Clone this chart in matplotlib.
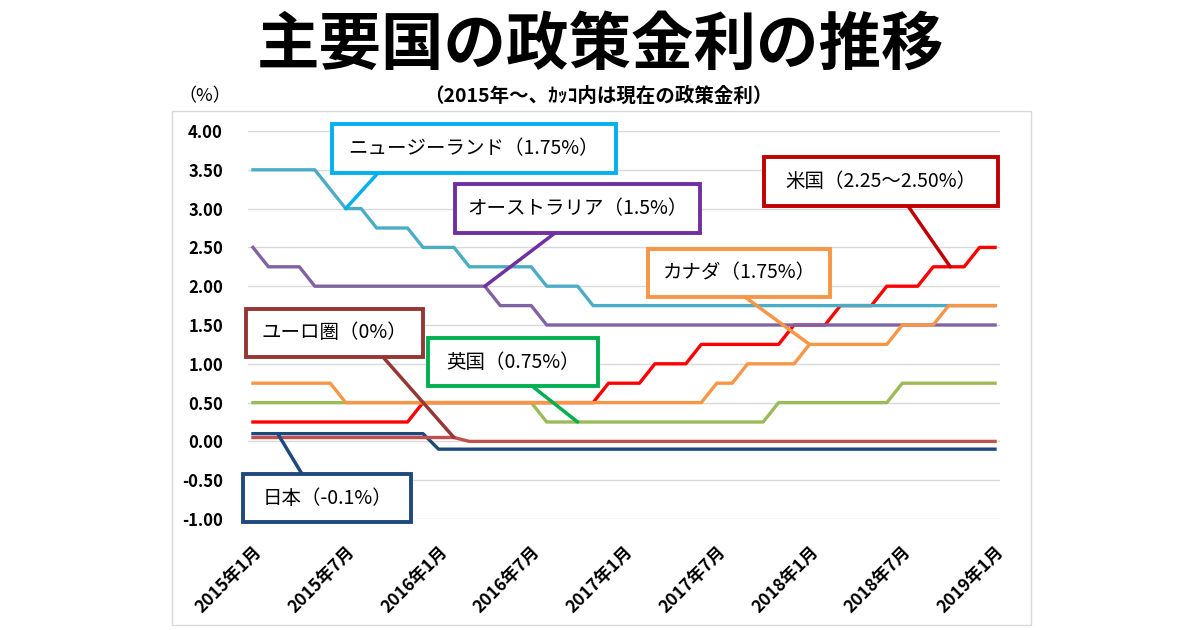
import matplotlib
matplotlib.use("Agg")
import matplotlib.pyplot as plt
from matplotlib.patches import Rectangle, ConnectionPatch
import numpy as np

plt.rcParams['font.family'] = ['Noto Sans CJK JP', 'DejaVu Sans']

# 月次データ（2015年1月～2019年1月、49か月）
months = list(range(49))
tick_pos = [0, 6, 12, 18, 24, 30, 36, 42, 48]
tick_labels = ['2015年1月', '2015年7月', '2016年1月', '2016年7月', '2017年1月',
               '2017年7月', '2018年1月', '2018年7月', '2019年1月']

us = [0.25, 0.25, 0.25, 0.25, 0.25, 0.25, 0.25, 0.25, 0.25, 0.25, 0.25,
      0.5, 0.5, 0.5, 0.5, 0.5, 0.5, 0.5, 0.5, 0.5, 0.5, 0.5, 0.5,
      0.75, 0.75, 0.75, 1.0, 1.0, 1.0, 1.25, 1.25, 1.25, 1.25, 1.25, 1.25,
      1.5, 1.5, 1.5, 1.75, 1.75, 1.75, 2.0, 2.0, 2.0, 2.25, 2.25, 2.25, 2.5, 2.5]
jp = [0.1, 0.1, 0.1, 0.1, 0.1, 0.1, 0.1, 0.1, 0.1, 0.1, 0.1, 0.1,
      -0.1, -0.1, -0.1, -0.1, -0.1, -0.1, -0.1, -0.1, -0.1, -0.1, -0.1, -0.1,
      -0.1, -0.1, -0.1, -0.1, -0.1, -0.1, -0.1, -0.1, -0.1, -0.1, -0.1, -0.1,
      -0.1, -0.1, -0.1, -0.1, -0.1, -0.1, -0.1, -0.1, -0.1, -0.1, -0.1, -0.1, -0.1]
eu = [0.05, 0.05, 0.05, 0.05, 0.05, 0.05, 0.05, 0.05, 0.05, 0.05, 0.05, 0.05, 0.05, 0.05,
      0.0, 0.0, 0.0, 0.0, 0.0, 0.0, 0.0, 0.0, 0.0, 0.0, 0.0, 0.0, 0.0, 0.0, 0.0, 0.0,
      0.0, 0.0, 0.0, 0.0, 0.0, 0.0, 0.0, 0.0, 0.0, 0.0, 0.0, 0.0, 0.0, 0.0, 0.0, 0.0,
      0.0, 0.0, 0.0]
uk = [0.5, 0.5, 0.5, 0.5, 0.5, 0.5, 0.5, 0.5, 0.5, 0.5, 0.5, 0.5, 0.5, 0.5, 0.5, 0.5,
      0.5, 0.5, 0.5, 0.25, 0.25, 0.25, 0.25, 0.25, 0.25, 0.25, 0.25, 0.25, 0.25, 0.25,
      0.25, 0.25, 0.25, 0.25, 0.5, 0.5, 0.5, 0.5, 0.5, 0.5, 0.5, 0.5,
      0.75, 0.75, 0.75, 0.75, 0.75, 0.75, 0.75]
nz = [3.5, 3.5, 3.5, 3.5, 3.5, 3.25, 3.0, 3.0, 2.75, 2.75, 2.75, 2.5, 2.5, 2.5,
      2.25, 2.25, 2.25, 2.25, 2.25, 2.0, 2.0, 2.0, 1.75, 1.75, 1.75, 1.75, 1.75, 1.75,
      1.75, 1.75, 1.75, 1.75, 1.75, 1.75, 1.75, 1.75, 1.75, 1.75, 1.75, 1.75, 1.75,
      1.75, 1.75, 1.75, 1.75, 1.75, 1.75, 1.75, 1.75]
au = [2.5, 2.25, 2.25, 2.25, 2.0, 2.0, 2.0, 2.0, 2.0, 2.0, 2.0, 2.0, 2.0, 2.0, 2.0, 2.0,
      1.75, 1.75, 1.75, 1.5, 1.5, 1.5, 1.5, 1.5, 1.5, 1.5, 1.5, 1.5, 1.5, 1.5, 1.5,
      1.5, 1.5, 1.5, 1.5, 1.5, 1.5, 1.5, 1.5, 1.5, 1.5, 1.5, 1.5, 1.5, 1.5, 1.5,
      1.5, 1.5, 1.5]
ca = [0.75, 0.75, 0.75, 0.75, 0.75, 0.75, 0.5, 0.5, 0.5, 0.5, 0.5, 0.5, 0.5, 0.5,
      0.5, 0.5, 0.5, 0.5, 0.5, 0.5, 0.5, 0.5, 0.5, 0.5, 0.5, 0.5, 0.5, 0.5, 0.5, 0.5,
      0.75, 0.75, 1.0, 1.0, 1.0, 1.0, 1.25, 1.25, 1.25, 1.25, 1.25, 1.25,
      1.5, 1.5, 1.5, 1.75, 1.75, 1.75, 1.75]

fig = plt.figure(figsize=(12, 6.3), dpi=100)
ax = fig.add_axes([248/1200, 1-519/630, 752/1200, 388/630])

# 描画順（下から）
ax.plot(months, us, color='#FF0000', lw=2.4, zorder=3)
ax.plot(months, jp, color='#1F497D', lw=2.4, zorder=3)
ax.plot(months, eu, color='#C0504D', lw=2.4, zorder=3)
ax.plot(months, uk, color='#9BBB59', lw=2.4, zorder=3)
ax.plot(months, nz, color='#4BACC6', lw=2.4, zorder=3)
ax.plot(months, au, color='#8064A2', lw=2.4, zorder=3)
ax.plot(months, ca, color='#F79646', lw=2.4, zorder=3)

ax.set_xlim(-0.32, 48.32)
ax.set_ylim(-1, 4)
ax.set_yticks(np.arange(-1, 4.01, 0.5))
ax.set_yticklabels(['%.2f' % v for v in np.arange(-1, 4.01, 0.5)],
                   fontsize=12, fontweight='bold')
ax.set_xticks(tick_pos)
ax.set_xticklabels(tick_labels, rotation=45, ha='right', va='top',
                   rotation_mode='anchor', fontsize=12.5, fontweight='bold')
ax.tick_params(axis='both', length=0)
ax.tick_params(axis='x', pad=17)
ax.tick_params(axis='y', pad=18)
ax.grid(axis='y', color='#D9D9D9', lw=1)
ax.set_axisbelow(True)
for s in ax.spines.values():
    s.set_visible(False)

# 上に重ねるピクセル座標の軸
ov = fig.add_axes([0, 0, 1, 1])
ov.set_xlim(0, 1200)
ov.set_ylim(630, 0)
ov.axis('off')

ov.add_patch(Rectangle((172, 111), 859, 514, fill=False, ec='#D9D9D9', lw=1))

ov.text(600, 45, '主要国の政策金利の推移', ha='center', va='center',
        fontsize=45, fontweight='bold')
ov.text(598, 96, '（2015年～、ｶｯｺ内は現在の政策金利）', ha='center', va='center',
        fontsize=14, fontweight='bold')
ov.text(205, 96, '（%）', ha='center', va='center', fontsize=13)

# ラベルの箱: (左, 上, 右, 下), 文字, 枠色, 線の始点, 指す点
boxes = [
    ((332, 124, 616, 173), 'ニュージーランド（1.75%）', '#00B0F0', (378, 173), (6, nz[6])),
    ((455, 184, 700, 233), 'オーストラリア（1.5%）', '#7030A0', (555, 233), (15, au[15])),
    ((764, 157, 998, 206), '米国（2.25～2.50%）', '#C00000', (908, 206), (45.1, us[45])),
    ((648, 249, 830, 297), 'カナダ（1.75%）', '#F79646', (745, 297), (36, ca[36])),
    ((246, 309, 423, 357), 'ユーロ圏（0%）', '#953735', (383, 357), (13, eu[13])),
    ((428, 338, 598, 386), '英国（0.75%）', '#00B050', (532, 386), (21, uk[21])),
    ((243, 474, 411, 522), '日本（-0.1%）', '#1F497D', (302, 474), (1.6, jp[1])),
]
for (x0, y0, x1, y1), txt, col, start, tip in boxes:
    cp = ConnectionPatch(xyA=start, coordsA=ov.transData, xyB=tip, coordsB=ax.transData,
                         color=col, lw=2.5, zorder=5)
    ov.add_artist(cp)
    ov.add_patch(Rectangle((x0, y0), x1-x0, y1-y0, fc='white', ec=col, lw=2.8, zorder=6))
    ov.text((x0+x1)/2, (y0+y1)/2, txt, ha='center', va='center', fontsize=14, zorder=7)

fig.savefig('out.png', dpi=100)
